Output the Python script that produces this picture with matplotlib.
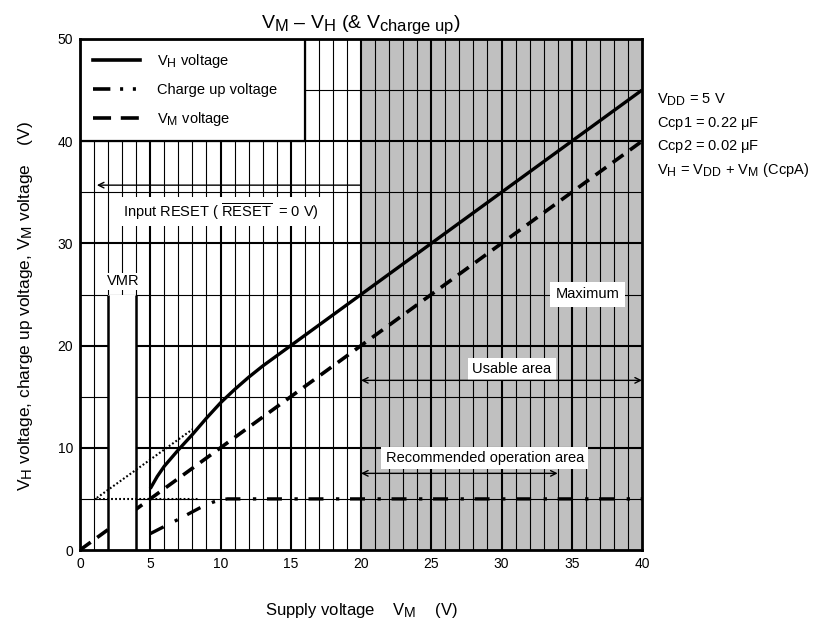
import numpy as np
import matplotlib
matplotlib.use('Agg')
import matplotlib.pyplot as plt
import matplotlib._mathtext as mathtext_internal
from matplotlib.patches import Rectangle
from matplotlib.lines import Line2D

# subscripts in the original are nearly full size
mathtext_internal.SHRINK_FACTOR = 0.85

plt.rcParams['font.family'] = ['Liberation Sans', 'DejaVu Sans']
plt.rcParams['mathtext.fontset'] = 'custom'
plt.rcParams['mathtext.rm'] = 'Liberation Sans'
plt.rcParams['mathtext.it'] = 'Liberation Sans:italic'
plt.rcParams['lines.scale_dashes'] = False

# V_H voltage (solid)
vh_x = [5, 5.5, 6, 6.5, 7, 8, 9, 10, 11, 12, 13, 14, 15, 20, 25, 30, 35, 40]
vh_y = [6.0, 7.2, 8.2, 9.0, 9.8, 11.3, 12.9, 14.4, 15.7, 16.9, 18.0, 19.0, 20.0, 25, 30, 35, 40, 45]

# charge up voltage (dash-dot)
cu_x = [5, 7, 8.5, 9.5, 10, 10.5, 40]
cu_y = [1.6, 3.0, 4.1, 4.7, 4.9, 5.0, 5.0]

# V_M voltage (dashed)
vm_x = [0, 40]
vm_y = [0, 40]

# dotted guide lines
diag_x = [1.2, 8.0]
diag_y = [5.1, 11.8]
flat_x = [1.1, 8.5]
flat_y = [5.0, 5.0]

x_ticks = [0, 5, 10, 15, 20, 25, 30, 35, 40]
y_ticks = [0, 10, 20, 30, 40, 50]

fig = plt.figure(figsize=(8.22, 6.25), dpi=100)
ax = fig.add_axes([80/822, 1-550/625, 562/822, 511/625])
ax.set_xlim(0, 40)
ax.set_ylim(0, 50)

# gray region
ax.axvspan(20, 40, color='#c0c0c0', zorder=0, lw=0)

# grid
for xv in range(1, 40):
    lw = 1.5 if xv % 5 == 0 else 0.8
    ax.vlines(xv, 0, 50, color='black', lw=lw, zorder=1)
for yv in range(5, 50, 5):
    lw = 1.5 if yv % 10 == 0 else 0.8
    ax.hlines(yv, 0, 40, color='black', lw=lw, zorder=1)

# V_M dashed
ax.plot(vm_x, vm_y, color='black', lw=2.6, dashes=(9.5, 5.8), zorder=2)

# VMR box
ax.add_patch(Rectangle((2, 0), 2, 25, facecolor='white', edgecolor='none', zorder=3))
ax.vlines([2, 4], 0, 25, color='black', lw=1.8, zorder=3.5)
ax.text(3.05, 26.3, 'VMR', fontsize=10.5, ha='center', va='center', zorder=6,
        bbox=dict(facecolor='white', edgecolor='none', pad=1))

# curves
ax.plot(vh_x, vh_y, color='black', lw=2.4, zorder=4, solid_capstyle='butt')
ax.plot(cu_x, cu_y, color='black', lw=2.4, dashes=(10.8, 9, 2.4, 7.7), zorder=4,
        dash_capstyle='butt')
ax.plot(diag_x, diag_y, color='black', lw=1.5, dashes=(1.3, 1.6), zorder=4)
ax.plot(flat_x, flat_y, color='black', lw=1.5, dashes=(1.3, 1.6), zorder=4)

# legend box
ax.add_patch(Rectangle((0, 40), 16, 10, facecolor='white', edgecolor='black', lw=1.6, zorder=5))
handles = [
    Line2D([], [], color='black', lw=2.6),
    Line2D([], [], color='black', lw=2.6, dashes=(12.5, 7, 2.2, 7, 2.2, 20)),
    Line2D([], [], color='black', lw=2.6, dashes=(13, 7)),
]
labels = [r'V$_\mathrm{H}$ voltage', 'Charge up voltage', r'V$_\mathrm{M}$ voltage']
leg = ax.legend(handles, labels, loc='upper left', bbox_to_anchor=(0.005, 0.995),
                frameon=False, fontsize=10.5, handlelength=3.2, handletextpad=1.2,
                labelspacing=0.9, borderpad=0.7, borderaxespad=0)
leg.set_zorder(6)

# annotations
box = dict(facecolor='white', edgecolor='none', pad=3)
ax.text(10.0, 33.1, r'Input RESET ( $\overline{\mathrm{RESET}}$  = 0 V)', fontsize=10.5,
        ha='center', va='center', zorder=6, bbox=box)
ax.annotate('', xy=(1.2, 35.7), xytext=(20, 35.7), zorder=6,
            arrowprops=dict(arrowstyle='->', lw=1, color='black', shrinkA=0, shrinkB=0))
ax.text(36.1, 25.0, 'Maximum', fontsize=10.5, ha='center', va='center', zorder=6,
        bbox=dict(facecolor='white', edgecolor='none', pad=4))
ax.text(30.75, 17.7, 'Usable area', fontsize=10.5, ha='center', va='center', zorder=6,
        bbox=dict(facecolor='white', edgecolor='none', boxstyle='square,pad=0.3'))
ax.annotate('', xy=(20, 16.6), xytext=(40, 16.6), zorder=6,
            arrowprops=dict(arrowstyle='<->', lw=1, color='black', shrinkA=0, shrinkB=0))
ax.text(28.8, 9.0, 'Recommended operation area', fontsize=10.5, ha='center', va='center',
        zorder=6, bbox=box)
ax.annotate('', xy=(20, 7.5), xytext=(34, 7.5), zorder=6,
            arrowprops=dict(arrowstyle='<->', lw=1, color='black', shrinkA=0, shrinkB=0))

# side notes
notes = [r'V$_\mathrm{DD}$ = 5 V', r'Ccp1 = 0.22 $\mathrm{\mu}$F', r'Ccp2 = 0.02 $\mathrm{\mu}$F',
         r'V$_\mathrm{H}$ = V$_\mathrm{DD}$ + V$_\mathrm{M}$ (CcpA)']
for i, s in enumerate(notes):
    ax.text(1.027, 0.881 - i*0.046, s, transform=ax.transAxes, fontsize=10.5,
            ha='left', va='center', clip_on=False)

# axes styling
ax.set_xticks(x_ticks)
ax.set_yticks(y_ticks)
ax.tick_params(length=0, labelsize=10, pad=5)
for sp in ax.spines.values():
    sp.set_linewidth(2)
    sp.set_zorder(7)

ax.set_title(r'V$_\mathrm{M}$ – V$_\mathrm{H}$ (& V$_\mathrm{charge\ up}$)', fontsize=14, pad=8)
ax.set_xlabel(r'Supply voltage    V$_\mathrm{M}$    (V)', fontsize=12, labelpad=22)
ax.set_ylabel(r'V$_\mathrm{H}$ voltage, charge up voltage, V$_\mathrm{M}$ voltage    (V)',
              fontsize=12.5)
ax.yaxis.set_label_coords(-0.080, 0.4775)

fig.savefig('out.png', dpi=100)
